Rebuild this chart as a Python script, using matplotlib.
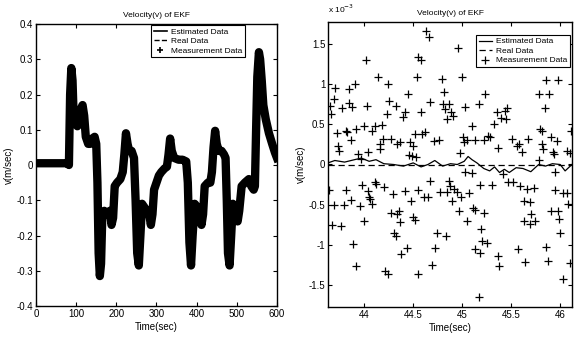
import matplotlib
matplotlib.use("Agg")
import matplotlib.pyplot as plt
from matplotlib.ticker import FuncFormatter, MultipleLocator
from matplotlib import font_manager

names = {f.name for f in font_manager.fontManager.ttflist}
fam = [n for n in ["Liberation Sans Narrow", "Liberation Sans", "DejaVu Sans"] if n in names]
plt.rcParams["font.family"] = fam
plt.rcParams["axes.unicode_minus"] = False

# ---------------- data: left panel (full run) ----------------
t_full = [0, 78, 82, 85, 88, 91, 94, 98, 103, 108, 112, 116, 120, 124, 130, 135, 140, 146,
          150, 153, 156, 159, 162, 165, 170, 178, 184, 188, 192, 196, 202, 210, 216, 220,
          224, 228, 232, 238, 244, 248, 252, 256, 260, 264, 270, 276, 282, 286, 290, 294,
          300, 306, 312, 320, 326, 330, 334, 338, 344, 355, 365, 374, 378, 382, 386, 390,
          395, 402, 408, 412, 416, 420, 428, 434, 438, 442, 446, 450, 455, 462, 468, 472,
          475, 478, 482, 486, 490, 496, 502, 506, 512, 520, 530, 536, 542, 545, 548, 551,
          555, 558, 562, 566, 572, 580, 588, 595, 600]
v_full = [0.005, 0.005, 0.0, 0.2, 0.275, 0.24, 0.13, 0.12, 0.11, 0.12, 0.16, 0.17, 0.14,
          0.08, 0.06, 0.06, 0.075, 0.08, 0.06, -0.05, -0.25, -0.315, -0.28, -0.15, -0.13,
          -0.14, -0.13, -0.17, -0.15, -0.06, -0.05, -0.04, -0.02, 0.03, 0.09, 0.06, 0.04,
          0.04, 0.02, -0.1, -0.25, -0.285, -0.2, -0.11, -0.12, -0.13, -0.14, -0.17, -0.14,
          -0.07, -0.05, -0.03, -0.02, -0.01, -0.005, 0.03, 0.075, 0.04, 0.02, 0.015, 0.015,
          0.01, -0.05, -0.22, -0.285, -0.2, -0.11, -0.12, -0.13, -0.17, -0.14, -0.06, -0.05,
          -0.05, -0.02, 0.05, 0.097, 0.06, 0.04, 0.04, 0.03, 0.02, -0.1, -0.25, -0.285, -0.2,
          -0.11, -0.12, -0.16, -0.13, -0.06, -0.05, -0.04, -0.06, -0.07, -0.06, 0.1, 0.25,
          0.32, 0.3, 0.24, 0.17, 0.13, 0.09, 0.06, 0.035, 0.02]

# ---------------- data: right panel (zoomed, units of 1e-3) ----------------
t_est = [43.63, 43.7, 43.8, 43.9, 43.97, 44.05, 44.12, 44.2, 44.3, 44.4, 44.5, 44.58,
         44.65, 44.72, 44.8, 44.88, 44.95, 45.02, 45.06, 45.1, 45.15, 45.22, 45.28, 45.33,
         45.38, 45.43, 45.48, 45.55, 45.62, 45.7, 45.78, 45.85, 45.92, 46.0, 46.05, 46.12]
v_est = [0.02, 0.05, 0.03, 0.06, 0.08, 0.04, 0.06, 0.01, 0.0, -0.02, 0.02, -0.03, 0.0,
         0.05, -0.02, 0.01, 0.0, 0.04, 0.1, 0.06, 0.02, -0.05, -0.08, -0.03, -0.1, -0.06,
         -0.1, -0.04, -0.05, -0.09, 0.0, -0.02, 0.01, 0.0, -0.08, 0.0]
t_real = [43.63, 46.12]
v_real = [-0.01, -0.01]
t_meas = [43.65, 43.66, 43.69, 43.70, 43.72, 43.73, 43.74, 43.77, 43.81, 43.82, 43.84, 43.84,
          43.86, 43.88, 43.91, 43.92, 43.94, 43.97, 44.0, 44.02, 44.03, 44.04, 44.08, 44.11,
          44.14, 44.16, 44.16, 44.18, 44.19, 44.23, 44.24, 44.25, 44.27, 44.32, 44.33, 44.37,
          44.40, 44.42, 44.45, 44.47, 44.50, 44.52, 44.54, 44.55, 44.58, 44.58, 44.59, 44.62,
          44.63, 44.66, 44.67, 44.71, 44.76, 44.79, 44.81, 44.80, 44.82, 44.84, 44.86, 44.89,
          44.91, 44.96, 44.98, 45.0, 45.01, 45.02, 45.03, 45.05, 45.10, 45.13, 45.17, 45.22,
          45.23, 45.26, 45.28, 45.32, 45.35, 45.37, 45.40, 45.44, 45.45, 45.46, 45.51, 45.56,
          45.58, 45.61, 45.67, 45.78, 45.79, 45.81, 45.81, 45.82, 45.84, 45.86, 45.89, 45.91,
          45.93, 45.94, 45.97, 45.98, 46.07, 46.10, 46.11, 44.46, 44.49, 44.53, 45.78,
          43.64, 43.67, 43.69, 43.76, 43.79, 43.81, 43.87, 43.89, 43.92, 43.96, 43.98, 44.0,
          44.04, 44.05, 44.06, 44.08, 44.11, 44.12, 44.20, 44.21, 44.24, 44.27, 44.29, 44.30,
          44.32, 44.33, 44.35, 44.37, 44.38, 44.42, 44.44, 44.48, 44.50, 44.52, 44.55, 44.55,
          44.61, 44.65, 44.67, 44.69, 44.72, 44.74, 44.77, 44.83, 44.84, 44.86, 44.88, 44.90,
          44.92, 44.95, 44.97, 44.99, 45.03, 45.05, 45.07, 45.10, 45.11, 45.13, 45.13, 45.17,
          45.18, 45.18, 45.19, 45.20, 45.22, 45.25, 45.30, 45.37, 45.38, 45.42, 45.47, 45.52,
          45.57, 45.59, 45.63, 45.63, 45.64, 45.66, 45.69, 45.69, 45.70, 45.73, 45.74, 45.86,
          45.88, 45.91, 45.95, 45.95, 45.98, 45.99, 46.0, 46.03, 46.07, 46.08, 46.03, 46.10]
v_meas = [0.73, 0.63, 0.82, 0.96, 0.39, 0.23, 0.17, 0.71, 0.42, 0.40, 0.94, 0.77,
          0.30, 0.72, 1.0, 0.44, 0.13, 0.07, 0.48, 1.30, 0.73, 0.15, 0.42, 0.48,
          1.09, 0.19, 0.25, 0.49, 0.32, 0.63, 1.0, 0.79, 0.32, 0.73, 0.25, 0.28,
          0.59, 0.65, 0.88, 0.28, 0.23, 0.38, 1.09, 1.34, 1.30, 0.66, 0.38, 0.40,
          1.67, 1.59, 0.78, 0.29, 0.30, 1.07, 0.90, 0.75, 0.69, 0.57, 0.75, 0.65,
          0.60, 1.46, 0.14, 1.09, 0.34, 0.28, 0.72, 0.30, 0.48, 0.30, 0.76, 0.30,
          0.88, 0.36, 0.34, 0.50, 0.66, 0.21, 0.58, 0.67, 0.57, 0.71, 0.32, 0.23,
          0.25, 0.16, 0.32, 0.88, 0.44, 0.42, 0.25, 0.19, 0.71, 1.05, 0.88, 0.34,
          0.16, 0.13, 0.29, 1.05, 0.17, 0.14, 0.42, 0.12, 0.10, 0.09, 0.05,
          -0.32, -0.75, -0.50, -0.77, -0.50, -0.32, -0.44, -0.99, -1.27, -0.52, -0.25, -0.70,
          -0.33, -0.40, -0.43, -0.49, -0.22, -0.24, -0.28, -1.33, -1.37, -0.60, -0.37, -0.85,
          -0.89, -0.62, -0.58, -0.72, -1.12, -0.33, -1.04, -0.45, -0.65, -0.69, -0.32, -1.37,
          -0.41, -0.41, -0.20, -1.25, -1.04, -0.86, -0.34, -0.89, -0.34, -0.20, -0.27, -0.46,
          -0.31, -0.34, -0.58, -0.41, -0.09, -0.70, -0.35, -0.11, -0.54, -0.57, -1.06, -1.66,
          -1.10, -0.25, -0.81, -0.95, -0.60, -0.98, -0.25, -1.14, -1.27, -0.12, -0.22, -0.22,
          -1.06, -0.27, -0.45, -0.71, -1.22, -0.30, -0.47, -0.74, -0.62, -0.29, -0.71, -1.03,
          -1.21, -0.58, -0.09, -0.32, -0.58, -0.68, -0.85, -0.35, -0.35, -0.49, -1.43, -1.23]

labels = ["Estimated Data", "Real Data", "Measurement Data"]
title = "Velocity(v) of EKF"

fig = plt.figure(figsize=(5.84, 3.39), dpi=100)
ax1 = fig.add_axes([0.0616, 0.0973, 0.4127, 0.8319])
ax2 = fig.add_axes([0.5616, 0.0944, 0.4178, 0.8407])

fs = 7
fmt = FuncFormatter(lambda x, p: "%g" % round(x, 6))

# left
ax1.plot(t_full, v_full, color="black", lw=6, solid_joinstyle="round", label=labels[0])
ax1.plot(t_full, v_full, color="black", lw=1, ls="--", label=labels[1])
ax1.plot(t_full, v_full, color="black", lw=0, marker="+", ms=5, mew=1.2, label=labels[2])
ax1.set_xlim(0, 600)
ax1.set_ylim(-0.4, 0.4)
ax1.xaxis.set_major_locator(MultipleLocator(100))
ax1.yaxis.set_major_locator(MultipleLocator(0.1))
ax1.xaxis.set_major_formatter(fmt)
ax1.yaxis.set_major_formatter(fmt)

# right
sc = 1e-3
ax2.plot(t_est, [v * sc for v in v_est], color="black", lw=0.9, label=labels[0])
ax2.plot(t_real, [v * sc for v in v_real], color="black", lw=0.9, ls=(0, (5, 3)), label=labels[1])
ax2.plot(t_meas, [v * sc for v in v_meas], color="black", lw=0, marker="+", ms=6, mew=0.9,
         label=labels[2])
ax2.set_xlim(43.63, 46.12)
ax2.set_ylim(-1.78e-3, 1.78e-3)
ax2.xaxis.set_major_locator(MultipleLocator(0.5))
ax2.yaxis.set_major_locator(MultipleLocator(0.5e-3))
ax2.xaxis.set_major_formatter(fmt)
ax2.yaxis.set_major_formatter(FuncFormatter(lambda x, p: "%g" % round(x / sc, 6)))
fig.text(0.5616, 0.955, r"x 10$^{-3}$", fontsize=6, ha="left", va="bottom")

for ax in (ax1, ax2):
    ax.tick_params(direction="in", top=True, right=True, labelsize=fs, length=3, width=0.8, pad=2)
    for s in ax.spines.values():
        s.set_linewidth(1.0)
    ax.set_title(title, fontsize=6, pad=5)
    ax.set_xlabel("Time(sec)", fontsize=fs, labelpad=2)
    ax.set_ylabel("v(m/sec)", fontsize=fs, labelpad=2)

leg_kw = dict(fontsize=6, frameon=True, fancybox=False, edgecolor="black", framealpha=1,
              handlelength=1.6, handletextpad=0.5, borderpad=0.3, labelspacing=0.2,
              borderaxespad=0)
l1 = ax1.legend(loc="upper right", bbox_to_anchor=(0.867, 0.995), **leg_kw)
l2 = ax2.legend(loc="upper right", bbox_to_anchor=(0.992, 0.954), **leg_kw)
for l in (l1, l2):
    l.get_frame().set_linewidth(0.8)
# keep legend handle for estimated thin
l1.legend_handles[0].set_linewidth(1.2)

fig.savefig("out.png", dpi=100)
